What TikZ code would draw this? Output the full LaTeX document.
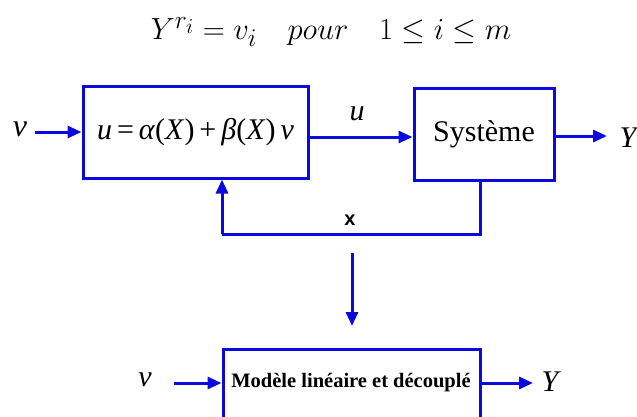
\documentclass[tikz,border=0pt]{standalone}
\usepackage{fontspec}
\usepackage{amsmath}
\usepackage{graphicx}
\newfontfamily\tnr{Liberation Serif}
\newfontfamily\ars{Liberation Sans}
\usetikzlibrary{arrows.meta}
\definecolor{lblue}{RGB}{10,10,220}
\tikzset{
  blk/.style={draw=lblue, line width=3pt, inner sep=0pt},
  conn/.style={draw=lblue, line width=3pt, -{Triangle[length=14pt,width=12pt]}},
  line/.style={draw=lblue, line width=3pt},
  lbl/.style={inner sep=0pt, font=\tnr\itshape}
}
\begin{document}
\begin{tikzpicture}[x=1pt,y=-1pt]
\useasboundingbox (0,0) rectangle (637,416);
\clip (0,0) rectangle (637,416);
\fill[white] (0,0) rectangle (637,416);
% title formula
\node (eq) at (331,32) {\scalebox{1.23}{\fontsize{24.88}{30}\selectfont $Y^{r_i} = v_i \quad pour \quad 1 \leq i \leq m$}};
% top row
\node[lbl, font=\tnr\itshape\fontsize{32}{34}\selectfont] (vin) at (20,129) {v};
\node[blk, minimum width=225pt, minimum height=92pt] (ctrl) at (195.5,132)
  {\tnr\fontsize{30}{32}\selectfont \textit{u}\,=\,\textit{α}(\textit{X})\,+\,\textit{β}(\textit{X})\,\textit{v}};
\node[blk, minimum width=140pt, minimum height=92pt] (sys) at (484,134)
  {\tnr\fontsize{30}{32}\selectfont Système};
\node[lbl, font=\tnr\itshape\fontsize{30}{32}\selectfont] (ulab) at (357,114) {u};
\node[lbl, font=\tnr\itshape\fontsize{30}{32}\selectfont] (yout) at (628,138) {Y};
\coordinate (yend) at (607,136);
\coordinate (vst) at (35,132);
\draw[conn] (vst) -- (ctrl.west |- vst);
\draw[conn] (ctrl.east |- 0,137) -- (sys.west |- 0,137);
\draw[conn] (sys.east |- yend) -- (yend);
% feedback
\coordinate (fb) at (222,234);
\draw[line] (sys.south -| 480,0) |- (fb);
\draw[conn] (fb) -- (fb |- ctrl.south);
\node[inner sep=0pt, font=\ars\bfseries\fontsize{20}{22}\selectfont] (xlab) at (350,220) {x};
% down arrow
\coordinate (da) at (352,253);
\coordinate (db) at (352,326);
\draw[conn] (da) -- (db);
% bottom
\node[blk, minimum width=257pt, minimum height=90pt, anchor=north] (mbox) at (351.5,348) {};
\node[inner sep=0pt, font=\tnr\bfseries\fontsize{20.5}{22}\selectfont] (mtext) at (351,383) {Modèle linéaire et découplé};
\node[lbl, font=\tnr\itshape\fontsize{30}{32}\selectfont] (vin2) at (145,380) {v};
\node[lbl, font=\tnr\itshape\fontsize{30}{32}\selectfont] (yout2) at (550,382) {Y};
\coordinate (v2st) at (174,383);
\coordinate (y2end) at (533,383);
\draw[conn] (v2st) -- (mbox.west |- v2st);
\draw[conn] (mbox.east |- y2end) -- (y2end);
\end{tikzpicture}
\end{document}
